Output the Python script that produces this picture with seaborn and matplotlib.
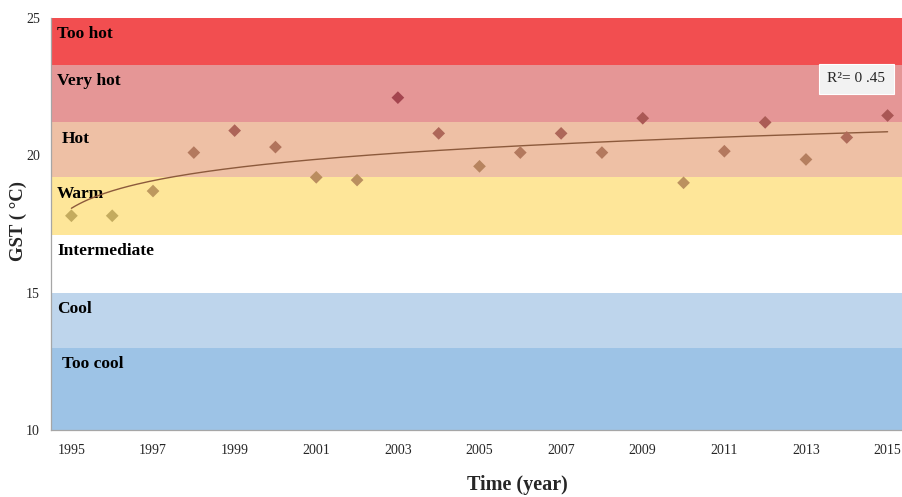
import numpy as np
import pandas as pd
import matplotlib
matplotlib.use("Agg")
import matplotlib.pyplot as plt
from matplotlib.colors import LinearSegmentedColormap
import seaborn as sns

# Growing season temperature per year
years = list(range(1995, 2016))
gst = [17.8, 17.8, 18.7, 20.1, 20.9, 20.3, 19.2, 19.1, 22.1, 20.8, 19.6,
       20.1, 20.8, 20.1, 21.35, 19.0, 20.15, 21.2, 19.85, 20.65, 21.45]

# Climate classes (lower, upper bound) and their fill colours
class_names = ["Too cool", "Cool", "Intermediate", "Warm", "Hot", "Very hot", "Too hot"]
class_low = [10, 13, 15, 17.1, 19.2, 21.2, 23.3]
class_high = [13, 15, 17.1, 19.2, 21.2, 23.3, 25]
class_colors = ["#9dc3e6", "#bed5ec", "#ffffff", "#fee699", "#eec0a5", "#e59696", "#f24e50"]
label_dx = [0.27, 0.15, 0.15, 0.15, 0.27, 0.15, 0.15]

r2_text = "R²= 0 .45"

sns.set_style("white")
plt.rcParams["font.family"] = ["Liberation Serif", "DejaVu Serif"]

df = pd.DataFrame({"year": years, "gst": gst})
df["pos"] = np.arange(len(years))

fig = plt.figure(figsize=(9.03, 4.97), dpi=100)
ax = fig.add_axes([51 / 903, 1 - 430 / 497, (908 - 51) / 903, (430 - 18) / 497])

# Class bands
for lo, hi, col in zip(class_low, class_high, class_colors):
    ax.axhspan(lo, hi, color=col, lw=0, zorder=0)
for name, lo, hi, dx in zip(class_names, class_low, class_high, label_dx):
    ax.text(-0.5 + dx, hi - 0.6, name, fontsize=12.5, fontweight="bold",
            va="center", ha="left", color="black", zorder=3)

# Logarithmic trend
idx = df["pos"].to_numpy() + 1
a, b = np.polyfit(np.log(idx), df["gst"], 1)
xs = np.linspace(1, len(years), 200)
trend = pd.DataFrame({"pos": xs - 1, "fit": a * np.log(xs) + b})
sns.lineplot(data=trend, x="pos", y="fit", color="#8c5a3c", lw=1.0, ax=ax, zorder=4)

# Points coloured by temperature
cmap = LinearSegmentedColormap.from_list("gst", ["#c4ab5e", "#b47d5f", "#a4454f"])
sns.scatterplot(data=df, x="pos", y="gst", hue="gst", palette=cmap,
                hue_norm=(17.8, 22.1), marker="D", s=42, edgecolor="none",
                legend=False, ax=ax, zorder=5)

ax.text(19.23, 22.78, r2_text, fontsize=11, ha="center", va="center", zorder=6,
        bbox=dict(boxstyle="square,pad=0.55", facecolor="#f2f2f2", edgecolor="#ffffff", lw=0.8))

ax.set_xlim(-0.5, len(years) - 0.5)
ax.set_ylim(10, 25)
ax.set_yticks([10, 15, 20, 25])
ax.set_xticks(df["pos"][::2], [str(y) for y in years[::2]])
ax.set_xticks(np.arange(-0.5, len(years), 1.0), minor=True)
ax.tick_params(axis="x", which="major", length=0, pad=10, labelsize=10)
ax.tick_params(axis="x", which="minor", length=4, color="#a6a6a6", width=0.8, direction="out")
ax.tick_params(axis="y", length=4, color="#a6a6a6", width=0.8, direction="out", labelsize=10, pad=4)

for side in ["top", "right"]:
    ax.spines[side].set_visible(False)
for side in ["left", "bottom"]:
    ax.spines[side].set_color("#a6a6a6")
    ax.spines[side].set_linewidth(0.9)

ax.set_xlabel("")
ax.set_ylabel("")
fig.text(18 / 903, 1 - 221 / 497, "GST ( °C)", rotation=90, fontsize=13.5,
         fontweight="bold", ha="center", va="center")
fig.text(517 / 903, 1 - 485 / 497, "Time (year)", fontsize=14.5,
         fontweight="bold", ha="center", va="center")

fig.savefig("out.png", dpi=100)
